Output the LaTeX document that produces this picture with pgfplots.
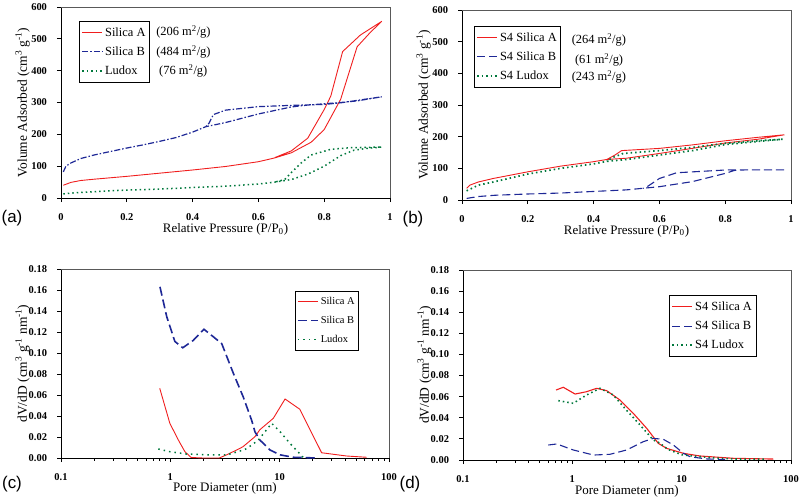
\documentclass[border=0pt]{standalone}
\usepackage{pgfplots}
\pgfplotsset{compat=1.18}
\usepackage{fontspec}
\setmainfont{Liberation Serif}
\newfontfamily\arialfont{Liberation Sans}
\definecolor{cred}{RGB}{240,30,30}
\definecolor{cblue}{RGB}{30,40,150}
\definecolor{cgreen}{RGB}{0,120,60}
\pgfplotsset{
 myaxis/.style={
  scale only axis,
  axis line style={black, line width=0.8bp},
  tick align=outside, major tick length=4bp, tick pos=left,
  every tick/.style={black, line width=0.8bp},
  minor tick num=0,
  /pgf/number format/assume math mode=true,
  tick label style={font=\fontsize{10.5}{12}\selectfont\bfseries},
  xticklabel style={anchor=center, yshift=-15.5bp},
  yticklabel style={anchor=east, xshift=-6.5bp},
  every axis x label/.style={at={(axis description cs:0.5,-0.163)}, anchor=center, font=\fontsize{13}{15}\selectfont},
  every axis y label/.style={at={(axis description cs:-0.117,0.5)}, anchor=center, rotate=90, font=\fontsize{13.5}{15}\selectfont},
  legend style={draw=black, line width=0.6bp, fill=white, font=\fontsize{12.5}{14}\selectfont, anchor=north west, inner xsep=2bp, inner ysep=4.5bp, row sep=5bp, cells={anchor=west}},
  legend cell align=left,
  legend image code/.code={\draw[##1] (0bp,0bp) -- (20bp,0bp);},
  after end axis/.code={\draw[gray!70!black, line width=0.8bp] (rel axis cs:0,1) -- (rel axis cs:1,1) -- (rel axis cs:1,0);},
 },
 isoA/.style={myaxis, width=329bp, xmin=0, xmax=1, ymin=0, ymax=600, xtick={0,0.2,0.4,0.6,0.8,1}, xticklabels={0,0.2,0.4,0.6,0.8,1}, ytick={0,100,...,600}, yticklabels={0,100,200,300,400,500,600}, xlabel={Relative Pressure (P/P\textsubscript{0})}, ylabel={Volume Adsorbed (cm\textsuperscript{3} g\textsuperscript{-1})}},
 psdA/.style={myaxis, width=328bp, xmin=0.1, xmax=100, ymin=0, ymax=0.18, xtick={0.1,1,10,100}, xticklabels={0.1,1,10,100}, ytick={0,0.02,...,0.181}, yticklabel={\pgfmathprintnumber[fixed,fixed zerofill,precision=2]{\tick}}, xlabel={Pore Diameter (nm)}, ylabel={dV/dD (cm\textsuperscript{3} g\textsuperscript{-1} nm\textsuperscript{-1})}},
}
\begin{document}
\begin{tikzpicture}
\useasboundingbox (0,0) rectangle (800bp,-499bp);
% (a)
\begin{axis}[isoA, at={(61bp,-198bp)}, anchor=south west, height=191bp,
  legend style={at={(0.0556,0.928)}}]
\addplot[cred, line width=0.9bp] coordinates {(0.007,40)(0.03,49)(0.06,55)(0.1,59)(0.2,68)(0.3,78)(0.4,88)(0.5,99)(0.6,114)(0.65,126)(0.7,142)(0.76,175)(0.8,215)(0.85,310)(0.9,475)(0.94,520)(0.975,555)(0.91,512)(0.856,460)(0.82,320)(0.8,278)(0.75,188)(0.7,148)(0.65,127)};
\addlegendentry{Silica A}
\addplot[cblue, line width=1.2bp, dash pattern=on 6bp off 2bp on 1.5bp off 2bp] coordinates {(0.007,82)(0.015,100)(0.03,110)(0.06,124)(0.1,135)(0.15,146)(0.2,157)(0.25,167)(0.3,178)(0.35,190)(0.4,207)(0.44,224)(0.5,237)(0.6,264)(0.7,286)(0.75,292)(0.8,296)(0.85,300)(0.9,305)(0.975,318)(0.85,299)(0.8,294)(0.7,291)(0.6,287)(0.5,276)(0.463,262)(0.45,235)(0.44,224)};
\addlegendentry{Silica B}
\addplot[cgreen, line width=1.5bp, dash pattern=on 1.5bp off 3bp] coordinates {(0.007,13)(0.05,17)(0.1,20)(0.2,25)(0.3,28)(0.4,33)(0.5,37)(0.6,44)(0.65,50)(0.7,58)(0.75,75)(0.8,100)(0.85,133)(0.89,150)(0.93,156)(0.975,160)(0.88,158)(0.82,153)(0.76,135)(0.73,110)(0.7,80)(0.68,58)(0.65,50)};
\addlegendentry{Ludox}
\node[anchor=west, font=\fontsize{12.5}{14}\selectfont, inner sep=0pt] at (axis description cs:0.289,0.869) {(206 m\textsuperscript{2}/g)};
\node[anchor=west, font=\fontsize{12.5}{14}\selectfont, inner sep=0pt] at (axis description cs:0.289,0.764) {(484 m\textsuperscript{2}/g)};
\node[anchor=west, font=\fontsize{12.5}{14}\selectfont, inner sep=0pt] at (axis description cs:0.298,0.665) {(76 m\textsuperscript{2}/g)};
\end{axis}
% (b)
\begin{axis}[isoA, at={(462bp,-200bp)}, anchor=south west, height=190bp,
  legend style={at={(0.0365,0.916)}}]
\addplot[cred, line width=0.9bp] coordinates {(0.014,37)(0.024,47)(0.05,57)(0.095,68)(0.2,89)(0.3,107)(0.4,121)(0.44,128)(0.5,132)(0.6,147)(0.7,163)(0.8,180)(0.9,192)(0.98,206)(0.9,198)(0.8,187)(0.7,174)(0.6,163)(0.485,156)(0.465,142)(0.44,128)};
\addlegendentry{S4 Silica A}
\addplot[cblue, line width=1.1bp, dash pattern=on 8bp off 4bp] coordinates {(0.014,5)(0.05,11)(0.1,15)(0.2,19)(0.3,22)(0.4,27)(0.5,32)(0.55,37)(0.6,42)(0.7,58)(0.8,84)(0.83,94)(0.86,95)(0.985,95)(0.86,95)(0.805,95)(0.652,86)(0.6,68)(0.56,40)(0.55,37)};
\addlegendentry{S4 Silica B}
\addplot[cgreen, line width=1.7bp, dash pattern=on 1.5bp off 3bp] coordinates {(0.014,29)(0.05,47)(0.1,58)(0.2,82)(0.3,100)(0.4,114)(0.44,122)(0.5,128)(0.6,142)(0.7,156)(0.8,175)(0.9,185)(0.975,192)(0.9,187)(0.8,179)(0.7,166)(0.6,156)(0.49,147)(0.46,135)(0.44,122)};
\addlegendentry{S4 Ludox}
\node[anchor=west, font=\fontsize{12.5}{14}\selectfont, inner sep=0pt] at (axis description cs:0.333,0.842) {(264 m\textsuperscript{2}/g)};
\node[anchor=west, font=\fontsize{12.5}{14}\selectfont, inner sep=0pt] at (axis description cs:0.343,0.737) {(61 m\textsuperscript{2}/g)};
\node[anchor=west, font=\fontsize{12.5}{14}\selectfont, inner sep=0pt] at (axis description cs:0.333,0.647) {(243 m\textsuperscript{2}/g)};
\end{axis}
% (c)
\begin{axis}[xmode=log, psdA, at={(61bp,-458bp)}, anchor=south west, height=189bp,
  legend style={at={(0.713,0.885)}, font=\fontsize{10.5}{12}\selectfont, row sep=6bp}]
\addplot[cred, line width=0.9bp] coordinates {(0.8,0.0664)(0.99,0.033)(1.2,0.016)(1.36,0.006)(1.55,0.0005)(2.0,0)(2.8,0)(3.27,0.003)(4.34,0.0092)(4.65,0.011)(5.94,0.0203)(6.6,0.027)(8.75,0.0378)(11.2,0.0562)(15.3,0.0464)(24.2,0.005)(41,0.0019)(62.5,0.0007)};
\addlegendentry{Silica A}
\addplot[cblue, line width=1.6bp, dash pattern=on 9bp off 4bp] coordinates {(0.804,0.163)(0.927,0.1346)(1.10,0.111)(1.30,0.105)(1.62,0.112)(2.03,0.1226)(2.47,0.1155)(2.95,0.109)(3.77,0.0807)(4.65,0.058)(5.54,0.036)(5.94,0.025)(6.61,0.017)(8.17,0.0076)(10.1,0.003)(13.3,0.0007)(22,0)};
\addlegendentry{Silica B}
\addplot[cgreen, line width=1.5bp, dash pattern=on 1.5bp off 4bp] coordinates {(0.776,0.0086)(0.99,0.006)(1.41,0.0038)(2.3,0.0029)(3.27,0.0029)(4.65,0.0076)(5.0,0.009)(6.38,0.017)(8.45,0.033)(10.1,0.025)(12.4,0.014)(16.4,0.0007)};
\addlegendentry{Ludox}
\end{axis}
% (d)
\begin{axis}[xmode=log, psdA, at={(463bp,-460bp)}, anchor=south west, height=190bp,
  legend style={at={(0.629,0.868)}}]
\addplot[cred, line width=1.1bp] coordinates {(0.71,0.0663)(0.826,0.0689)(1.06,0.0625)(1.35,0.0647)(1.67,0.0679)(2.06,0.0657)(2.73,0.0568)(3.61,0.0442)(4.79,0.030)(6.11,0.0158)(7.3,0.011)(10.4,0.0063)(14.7,0.0038)(29.7,0.0016)(68.9,0.0009)};
\addlegendentry{S4 Silica A}
\addplot[cblue, line width=1.1bp, dash pattern=on 8bp off 4bp] coordinates {(0.603,0.0142)(0.72,0.0152)(1.02,0.0095)(1.56,0.0047)(2.21,0.0054)(3.14,0.0095)(4.46,0.0174)(5.5,0.0205)(6.8,0.0196)(8.4,0.0142)(10.4,0.0063)(12,0.003)(17,0.001)(25,0.0005)};
\addlegendentry{S4 Silica B}
\addplot[cgreen, line width=1.6bp, dash pattern=on 1.5bp off 3bp] coordinates {(0.745,0.0562)(1.02,0.0537)(1.35,0.0616)(1.79,0.0679)(2.37,0.0616)(3.14,0.047)(4.16,0.0332)(5.5,0.019)(6.3,0.016)(7.5,0.010)(10,0.005)(15,0.003)(20,0.002)(30,0.001)(60,0.0007)};
\addlegendentry{S4 Ludox}
\end{axis}
\node[font=\arialfont\fontsize{17}{20}\selectfont] at (12bp,-218bp) {(a)};
\node[font=\arialfont\fontsize{17}{20}\selectfont] at (413bp,-219bp) {(b)};
\node[font=\arialfont\fontsize{17}{20}\selectfont] at (12bp,-484bp) {(c)};
\node[font=\arialfont\fontsize{17}{20}\selectfont] at (410bp,-484bp) {(d)};
\end{tikzpicture}
\end{document}
